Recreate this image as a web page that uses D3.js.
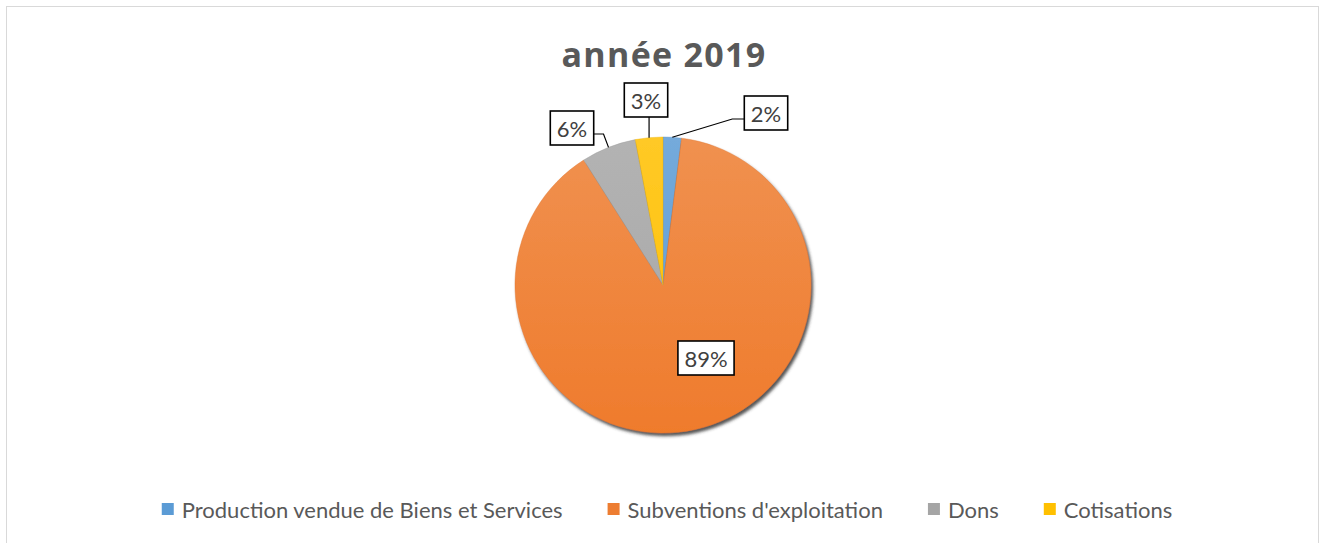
<!DOCTYPE html>
<html>
<head>
<meta charset="utf-8">
<script src="https://cdn.jsdelivr.net/npm/d3@7"></script>
<style>
  body { margin: 0; background: #fff; }
  text { font-family: Lato, "Open Sans", sans-serif; }
</style>
</head>
<body>
<div id="chart"></div>
<script>
const w = 1325, h = 543;

// data
const title = "année 2019";
const categories = ["Production vendue de Biens et Services", "Subventions d'exploitation", "Dons", "Cotisations"];
const values = [2, 89, 6, 3];
const colors = ["#5B9BD5", "#ED7D31", "#A5A5A5", "#FFC000"];
// label box centres relative to the pie centre (Excel "best fit" layout)
const labelOffsets = [[103, -172], [43, 73], [-91, -157], [-17, -185]];

const cx = 663, cy = 285, r = 148;

const svg = d3.select("#chart")
    .append("svg")
    .attr("width", w)
    .attr("height", h);

// chart border
svg.append("rect")
    .attr("x", 6.5).attr("y", 6.5)
    .attr("width", 1312).attr("height", 545)
    .attr("fill", "#fff")
    .attr("stroke", "#d9d9d9");

const defs = svg.append("defs");
const shadow = defs.append("filter").attr("id", "shadow")
    .attr("x", "-10%").attr("y", "-10%").attr("width", "130%").attr("height", "130%");
shadow.append("feDropShadow")
    .attr("dx", 2).attr("dy", 3).attr("stdDeviation", 1.4)
    .attr("flood-color", "#3a3a3a").attr("flood-opacity", 0.85);

colors.forEach((c, i) => {
    const g = defs.append("linearGradient").attr("id", "grad" + i)
        .attr("gradientUnits", "userSpaceOnUse")
        .attr("x1", 0).attr("y1", -r).attr("x2", 0).attr("y2", r);
    g.append("stop").attr("offset", 0).attr("stop-color", d3.interpolateRgb(c, "#fff")(0.15));
    g.append("stop").attr("offset", 1).attr("stop-color", d3.interpolateRgb(c, "#ff6a00")(c === "#ED7D31" ? 0.1 : 0));
});

// title
svg.append("text")
    .attr("x", cx + 1).attr("y", 67)
    .attr("text-anchor", "middle")
    .style("font-family", "'Open Sans', sans-serif")
    .style("letter-spacing", "1.3px")
    .attr("font-size", 34)
    .attr("font-weight", "bold")
    .attr("fill", "#595959")
    .text(title);

const data = categories.map((c, i) => ({name: c, value: values[i], color: colors[i], idx: i}));

const pie = d3.pie().value(d => d.value).sort(null);
const arcs = pie(data);
const arc = d3.arc().innerRadius(0).outerRadius(r);

const gPie = svg.append("g").attr("transform", `translate(${cx},${cy})`);

gPie.append("g")
    .attr("filter", "url(#shadow)")
    .selectAll("path")
    .data(arcs)
    .join("path")
    .attr("d", arc)
    .attr("fill", d => `url(#grad${d.data.idx})`)
    .attr("stroke", d => d3.color(d.data.color).darker(0.2))
    .attr("stroke-width", 0.4);

// labels
const total = d3.sum(values);
const fmt = v => Math.round(v / total * 100) + "%";

const lbl = gPie.append("g").selectAll("g")
    .data(arcs)
    .join("g");

lbl.each(function(d) {
    const g = d3.select(this);
    const [ox, oy] = labelOffsets[d.data.idx];
    const t = g.append("text")
        .attr("x", ox).attr("y", oy)
        .attr("text-anchor", "middle")
        .attr("dominant-baseline", "central")
        .attr("font-size", 22)
        .attr("fill", "#404040")
        .text(fmt(d.data.value));
    const bb = t.node().getBBox();
    const bw = bb.width + 13, bh = 34;
    const x0 = ox - bw / 2, y0 = oy - bh / 2;

    const inside = d.data.value / total > 0.5;
    if (!inside) {
        const mid = (d.startAngle + d.endAngle) / 2;
        const px = Math.sin(mid) * r, py = -Math.cos(mid) * r;
        let pts;
        if (py - 4 > y0 + bh && px > x0 && px < x0 + bw) {
            pts = [[px, py], [px, y0 + bh]];
        } else if (px > ox) {
            const ly = oy + 6;
            pts = [[px, py], [px - 5, ly], [x0 + bw, ly]];
        } else {
            const ly = oy + 6;
            pts = [[px, py], [x0 - 12, ly], [x0, ly]];
        }
        g.insert("path", "text")
            .attr("d", d3.line()(pts))
            .attr("fill", "none")
            .attr("stroke", "#000")
            .attr("stroke-width", 1.2);
    }
    g.insert("rect", "text")
        .attr("x", x0).attr("y", y0)
        .attr("width", bw).attr("height", bh)
        .attr("fill", "#fff")
        .attr("stroke", "#000")
        .attr("stroke-width", 1.6);
});

// legend
const legend = svg.append("g");
const items = legend.selectAll("g").data(data).join("g");
items.append("rect")
    .attr("width", 12).attr("height", 12)
    .attr("y", -6)
    .attr("fill", d => d.color);
items.append("text")
    .attr("x", 20).attr("y", 0)
    .attr("dominant-baseline", "central")
    .attr("font-size", 22)
    .attr("fill", "#595959")
    .text(d => d.name);

let xs = 0;
const pos = [];
items.each(function() {
    pos.push(xs);
    xs += 20 + d3.select(this).select("text").node().getComputedTextLength() + 45;
});
const legW = xs - 45;
const lx0 = 667 - legW / 2;
items.attr("transform", (d, i) => `translate(${lx0 + pos[i]},509)`);
</script>
</body>
</html>
